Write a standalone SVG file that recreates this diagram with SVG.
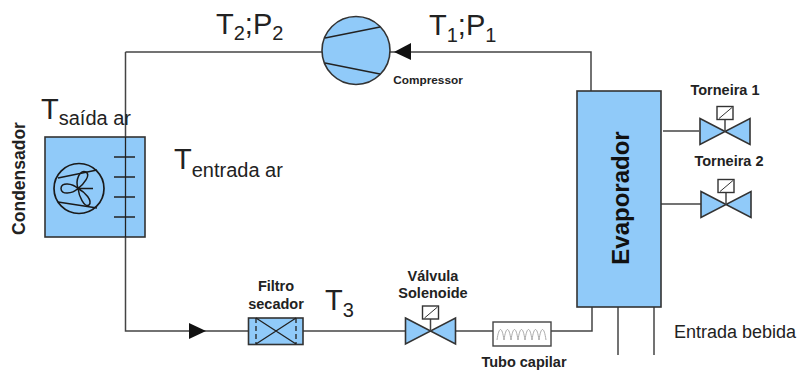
<svg xmlns="http://www.w3.org/2000/svg" width="797" height="371" viewBox="0 0 797 371">
<style>
text{font-family:"Liberation Sans",Arial,sans-serif;fill:#222}
.b{font-weight:bold;font-size:14.500px;text-anchor:middle}
.big{font-size:29px}
.sub{font-size:20px}
.s{fill:#90caf9;stroke:#333;stroke-width:1.6}
.l{fill:none;stroke:#444;stroke-width:1.5}
.t{fill:none;stroke:#222;stroke-width:1.3}
</style>
<defs>
<g id="valve">
<path class="s" d="M-25,-13 L25,13 V-13 L-25,13 Z"/>
<path class="l" d="M0,0 V-12"/>
<rect x="-8" y="-25" width="16" height="13" fill="#fff" stroke="#333" stroke-width="1.4"/>
<path fill="none" stroke="#333" stroke-width="1" d="M-6,-13 L7,-24"/>
</g>
</defs>
<g id="connectors">
<path class="l" d="M125.500,52 H322"/>
<path class="l" d="M125.500,52 V331 H248"/>
<path class="l" d="M303,331 H405"/>
<path class="l" d="M456,331 H493"/>
<path class="l" d="M551,331 H592 V307"/>
<path class="l" d="M390,52 H591 V91" stroke-width="1.800"/>
<path class="l" d="M663,131 H699"/>
<path class="l" d="M661,204 H701"/>
<path class="l" d="M618,307 V355"/>
<path class="l" d="M654,307 V355"/>
<path d="M189,323 L206,331 L189,339 Z" fill="#111"/>
<path d="M394,52 L411,43 V60 Z" fill="#111"/>
</g>
<g id="condensador">
<rect class="s" x="45" y="137" width="100" height="100"/>
<circle cx="79" cy="188.500" r="25" fill="none" stroke="#1a1a1a" stroke-width="1.700"/>
<path fill="none" stroke="#1a1a1a" stroke-width="1.500" d="M58,178 L97,170 M58,202 L97,208"/>
<path fill="none" stroke="#1a1a1a" stroke-width="1.500" d="M78,188.500 C72,183 61,182 61,188.500 C61,195 72,194 78,188.500 C84,184 91,175 86,172 C80,169 75,180 78,188.500 C79,196 84,208 89,205 C93,201 85,192 78,188.500 L93,188.500"/>
<path class="t" d="M125.500,137 V237"/>
<path class="t" d="M114,157 H135 M114,177 H135 M114,197 H135 M114,217 H135"/>
<text text-anchor="middle" transform="translate(25,178.500) rotate(-90)" style="font-size:17.500px;font-weight:bold">Condensador</text>
</g>
<g id="compressor">
<circle class="s" cx="356" cy="50.500" r="34"/>
<path class="t" d="M325,38 L380,27 M325,63 L380,74"/>
<text x="428" y="84" class="b" style="font-size:11.800px">Compressor</text>
</g>
<g id="filtro">
<rect class="s" x="248.500" y="318" width="54.500" height="26.500"/>
<path class="t" d="M256,318 L296,344 M296,318 L256,344"/>
<path class="t" stroke-dasharray="5 3" d="M256,318 V344 M296,318 V344"/>
<text x="276" y="291" class="b">Filtro</text>
<text x="276" y="309" class="b">secador</text>
</g>
<g id="valvula" transform="translate(430.500,331)"><use href="#valve"/></g>
<text x="433" y="281" class="b">Válvula</text>
<text x="433" y="298" class="b">Solenoide</text>
<g id="tubo">
<rect x="493" y="322" width="58" height="24" fill="#fff" stroke="#444" stroke-width="1.4"/>
<path fill="none" stroke="#aaa" stroke-width="1" d="M497,340 C499,326 502,326 504,340 C506,326 509,326 511,340 C513,326 516,326 518,340 C520,326 523,326 525,340 C527,326 530,326 532,340 C534,326 537,326 539,340 C541,326 544,326 546,340"/>
<text x="524" y="367" class="b">Tubo capilar</text>
</g>
<g id="evaporador">
<rect class="s" x="577" y="91" width="84" height="216"/>
<text transform="translate(629,198) rotate(-90)" text-anchor="middle" style="font-size:24px;font-weight:bold;fill:#111">Evaporador</text>
</g>
<g id="torneira1" transform="translate(725,131.500)"><use href="#valve"/></g>
<text x="725" y="95" class="b">Torneira 1</text>
<g id="torneira2" transform="translate(726,204.500)"><use href="#valve"/></g>
<text x="729" y="166" class="b">Torneira 2</text>
<text x="216" y="34" class="big">T<tspan class="sub" dy="6">2</tspan><tspan dy="-6">;P</tspan><tspan class="sub" dy="6">2</tspan></text>
<text x="429" y="35" class="big">T<tspan class="sub" dy="7">1</tspan><tspan dy="-7">;P</tspan><tspan class="sub" dy="7">1</tspan></text>
<text x="41" y="119" class="big">T<tspan class="sub" dy="6">saída ar</tspan></text>
<text x="174" y="169" class="big">T<tspan class="sub" dy="8">entrada ar</tspan></text>
<text x="325" y="310" class="big">T<tspan class="sub" dy="7">3</tspan></text>
<text x="674" y="338" style="font-size:18px">Entrada bebida</text>
</svg>
